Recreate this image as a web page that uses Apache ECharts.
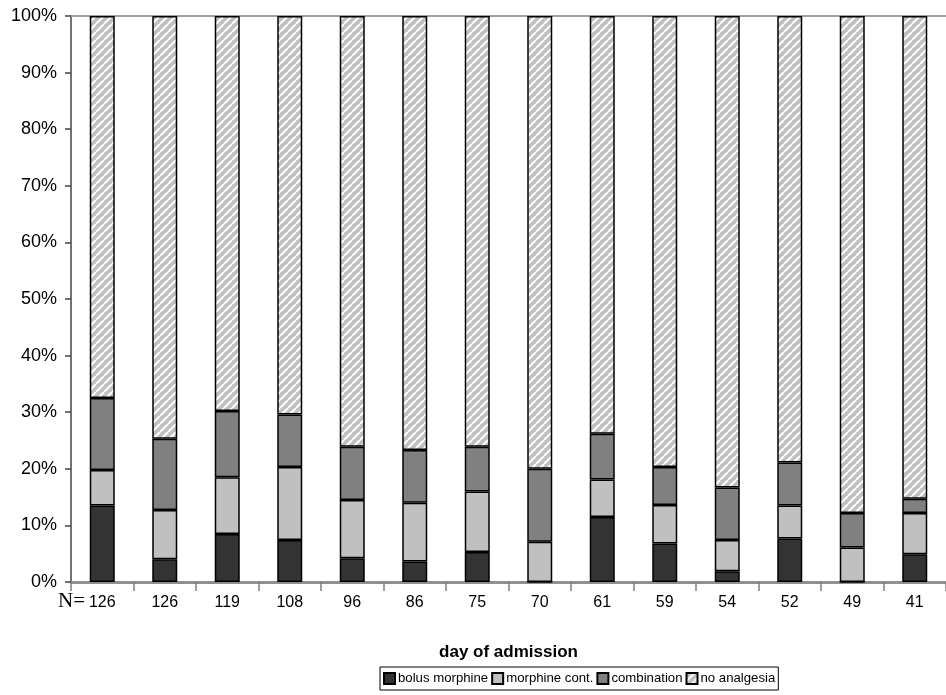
<!DOCTYPE html>
<html>
<head>
<meta charset="utf-8">
<script src="https://cdn.jsdelivr.net/npm/echarts@6/dist/echarts.min.js"></script>
<style>
html,body{margin:0;padding:0;background:#fff;}
#chart{width:946px;height:695px;}
</style>
</head>
<body>
<div id="chart"></div>
<script>
var categories = ['126','126','119','108','96','86','75','70','61','59','54','52','49','41'];
var bolusMorphine = [13.5, 4.0, 8.5, 7.4, 4.2, 3.6, 5.3, 0, 11.5, 6.8, 1.9, 7.7, 0, 4.9];
var morphineCont  = [6.3, 8.7, 10.0, 12.9, 10.3, 10.4, 10.7, 7.1, 6.6, 6.8, 5.5, 5.8, 6.1, 7.3];
var combination   = [12.7, 12.6, 11.7, 9.3, 9.4, 9.3, 7.9, 12.9, 8.1, 6.7, 9.3, 7.6, 6.1, 2.5];
var noAnalgesia   = [67.5, 74.7, 69.8, 70.4, 76.1, 76.7, 76.1, 80.0, 73.8, 79.7, 83.3, 78.9, 87.8, 85.3];
var yTicks = [0,10,20,30,40,50,60,70,80,90,100];
var seriesNames = ['bolus morphine','morphine cont.','combination','no analgesia'];

var fonts = '"Liberation Sans", Arial, Helvetica, sans-serif';

function hatch(){
  var s = 8;
  var c = document.createElement('canvas');
  c.width = s; c.height = s;
  var g = c.getContext('2d');
  g.fillStyle = '#c0c0c0';
  g.fillRect(0,0,s,s);
  g.strokeStyle = '#ffffff';
  g.lineWidth = 2;
  for (var k=-1;k<=1;k++){
    g.beginPath();
    g.moveTo(k*s, s);
    g.lineTo(k*s + s, 0);
    g.stroke();
  }
  return {image: c, repeat: 'repeat'};
}

var chart = echarts.init(document.getElementById('chart'), null, {renderer:'canvas'});
var border = {borderColor:'#000', borderWidth:1.5};
function mk(name, data, color){
  return {
    name: name, type:'bar', stack:'s', data: data, barWidth: 25,
    itemStyle: Object.assign({color: color}, border),
    emphasis: {disabled:true}
  };
}
var option = {
  animation: false,
  textStyle: {fontFamily: fonts},
  grid: {left:71, top:16, width:882, height:566, containLabel:false},
  xAxis: [{
    type:'category', data: categories, position:'bottom',
    axisLine:{lineStyle:{color:'#909090', width:3}},
    axisTick:{show:true, length:9, lineStyle:{color:'#808080', width:1.5}},
    axisLabel:{color:'#000', fontSize:16, margin:13, fontFamily:fonts},
    name:'day of admission', nameLocation:'middle', nameGap:62,
    nameTextStyle:{fontSize:17, fontWeight:'bold', color:'#000', fontFamily:fonts}
  },{
    type:'category', data: categories, position:'top',
    axisLine:{lineStyle:{color:'#a0a0a0', width:2}},
    axisTick:{show:false}, axisLabel:{show:false}
  }],
  yAxis: {
    type:'value', min:0, max:100, interval:10,
    axisLine:{show:true, lineStyle:{color:'#444', width:1.5}},
    axisTick:{show:true, length:6, lineStyle:{color:'#444', width:1.5}},
    axisLabel:{color:'#000', fontSize:18, margin:14, fontFamily:fonts,
      formatter: function(v){ return yTicks.indexOf(v) >= 0 ? v + '%' : ''; }},
    splitLine:{show:false}
  },
  legend: {
    data: seriesNames, left: 380, top: 667,
    icon:'rect', itemWidth:11, itemHeight:11, itemGap:3,
    borderColor:'#000', borderWidth:1, padding:[5,3,5,3],
    textStyle:{fontSize:13.2, color:'#000', fontFamily:fonts, padding:[0,0,0,-2]}
  },
  graphic: [{
    type:'text', left:58, top:591,
    style:{text:'N=', fontSize:21, fontFamily:'"Liberation Serif", "Times New Roman", serif', fill:'#000'}
  }],
  series: [
    mk(seriesNames[0], bolusMorphine, '#333333'),
    mk(seriesNames[1], morphineCont, '#c0c0c0'),
    mk(seriesNames[2], combination, '#808080'),
    mk(seriesNames[3], noAnalgesia, hatch())
  ]
};
chart.setOption(option);
</script>
</body>
</html>
